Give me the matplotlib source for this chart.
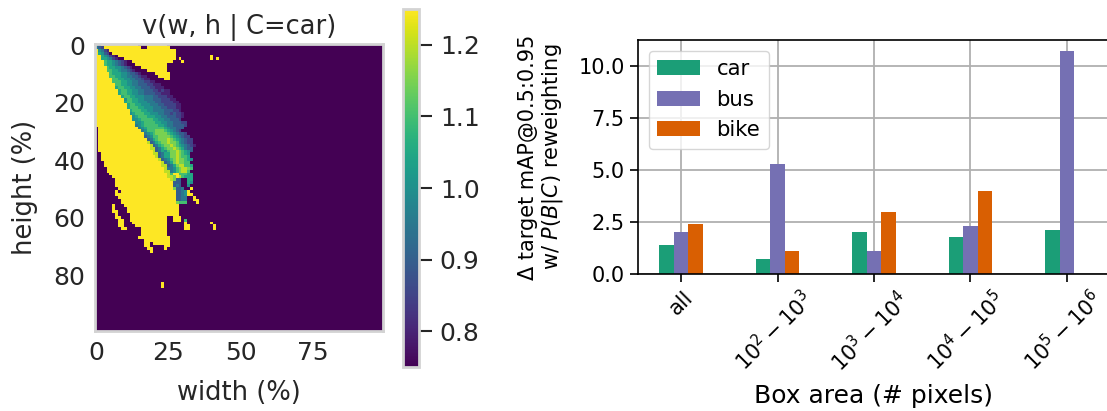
import matplotlib
matplotlib.use("Agg")
import matplotlib.pyplot as plt
import matplotlib.transforms as mtrans
import numpy as np

# left panel: v(w, h | C=car), one string per height row, one char per width cell
# '.' = lowest, digits = steps of 0.05 above it, Y = highest
HEAT_ROWS = [
    "32" + "Y"*13 + "..." + "Y"*7,
    "432" + "Y"*13 + ".." + "Y"*8,
    "Y5421" + "Y"*23,
    "Y65320" + "Y"*22,
    "YY654210" + "Y"*20 + "."*12 + "Y",
    "YY6654210." + "Y"*18 + "." + "Y" + "."*10 + "Y" + ".Y",
    "YYY7665432100" + "Y"*14 + "..." + "Y",
    "YYY76654321000" + "Y"*11,
    "YYYY766554321000" + "Y"*9,
    "YYYY7766544321000." + "Y"*7,
    "YYYYY766655433210000." + "Y"*5,
    "YYYYY776655443321100" + "00" + "Y"*4,
    "Y"*6 + "7766" + "55443" + "3211" + "00000" + "YY",
    "Y"*6 + "77766" + "55443" + "32211" + "000",
    "Y"*7 + "77665" + "54433" + "32211" + "10",
    "Y"*7 + "677665" + "54433" + "32211" + "10",
    "Y"*8 + "67766" + "55443" + "33221" + "211",
    "Y"*8 + "677665" + "54433" + "33221" + "110",
    "Y"*9 + "67766" + "55544" + "43322" + "2110",
    "Y"*10 + "5776" + "65544" + "43332" + "22110",
    "Y"*10 + "67766" + "55544" + "43322" + "2211",
    "Y"*11 + "6776" + "65554" + "44332" + "22211",
    "Y"*11 + "67776" + "65554" + "44332" + "2211",
    "Y"*12 + "6777" + "66554" + "44433" + "3221",
    "Y"*12 + "56777" + "66555" + "44332" + "3221",
    "Y"*13 + "5677" + "76665" + "54433" + "3221",
    "Y"*13 + "55677" + "77665" + "54433" + "32",
    "Y"*14 + "5567" + "77766" + "55443" + "3322",
    "Y"*14 + "45677" + "77766" + "54433" + "332",
    "." + "Y"*14 + "4567" + "77777" + "65443" + "33",
    "." + "Y"*15 + "45" + "77788" + "87654" + "32",
    "." + "Y"*16 + "45" + "67888" + "87654" + "332",
    "." + "Y"*16 + "345" + "77888" + "8765" + "4322",
    "." + "Y"*17 + "346" + "78889" + "876" + "54322",
    "." + "Y"*17 + "9346" + "7889" + "8875" + "4322",
    "." + "Y"*18 + "9346" + "7889" + "876" + "54321",
    "." + "Y"*18 + "99346" + "7889" + "87" + "6433",
    "." + "Y"*19 + "9346" + "57889" + "876" + "53",
    ".." + "Y"*18 + "99346" + "6889" + "8765",
    ".." + "Y"*19 + "9346" + "6889" + "8776",
    ".." + "Y"*20 + "9345" + "789" + "88765",
    "..." + "Y"*20 + "9346" + "89" + "8877",
    "..." + "Y"*20 + "99346" + "899" + "776",
    "...." + "Y"*20 + "9445" + "7899" + "87",
    "...." + "Y"*20 + "9945" + "7899" + "7",
    "....." + "Y"*20 + "97" + "YY" + "777" + "66",
    "......" + "Y"*19 + "998" + "Y9" + "76" + "66",
    "......." + "Y"*19 + "98" + "33" + ".." + "66",
    "......." + "Y"*20 + "333" + ".." + "65",
    "......." + "Y"*20 + "343" + ".." + "5",
    "........" + "Y"*19 + "8" + "33" + "4" + ".." + "Y",
    "......." + "Y." + "Y"*19 + "33" + "4" + "5" + "Y",
    "......." + "YY" + "Y"*19 + "334" + "5" + "YY",
    "........" + "Y"*20 + "3344" + "..Y",
    "........." + "Y"*19 + "3344" + "..YY",
    "........." + "Y"*19 + "8777" + "...Y",
    "......Y..." + "Y"*19,
    "......Y...." + "Y"*18,
    "......YY..." + "Y"*18,
    ".......Y...." + "Y"*17,
    ".......YY..." + "Y"*13 + ".." + "YYY",
    "........YY.." + "Y"*13 + ".." + "YYY" + ".7",
    "........YY..." + "Y"*12 + "."*6 + "Y" + "."*8 + "Y",
    "........YY...." + "Y"*11 + "."*6 + "YY" + "."*8 + "Y",
    ".........YY....." + "Y"*9 + "."*6 + "YY" + "."*8 + "Y",
    "."*16 + "Y"*9,
    "."*16 + "Y"*9,
    "."*15 + "Y" + "Y"*10,
    "."*17 + "Y"*9,
    "."*17 + "YY." + "Y"*6,
    "."*17 + "YY" + "."*5 + "YY",
    "."*18 + "YY" + "...." + "Y",
    "."*19 + "Y",
] + [""]*10 + ["."*23 + "Y", "."*23 + "Y"] + [""]*15

# right panel
box_areas = ["all", r"$10^2-10^3$", r"$10^3-10^4$", r"$10^4-10^5$", r"$10^5-10^6$"]
car = [1.4, 0.7, 2.0, 1.8, 2.1]
bus = [2.0, 5.3, 1.1, 2.3, 10.7]
bike = [2.4, 1.1, 3.0, 4.0, 0.0]

W, H = 1107, 411


def px_axes(fig, x0, y0, x1, y1):
    return fig.add_axes([x0 / W, 1 - y1 / H, (x1 - x0) / W, (y1 - y0) / H])


def decode(rows, ncols=100):
    grid = np.full((len(rows), ncols), 0.75)
    for i, row in enumerate(rows):
        for j, ch in enumerate(row):
            if ch == "Y":
                grid[i, j] = 1.25
            elif ch != ".":
                grid[i, j] = 0.75 + 0.05 * int(ch)
    return grid


fig = plt.figure(figsize=(W / 100, H / 100), dpi=100)

ax = px_axes(fig, 95, 44, 383, 331)
im = ax.imshow(decode(HEAT_ROWS), cmap="viridis", vmin=0.75, vmax=1.25,
               aspect="auto", interpolation="nearest")
ax.set_xticks([0, 25, 50, 75])
ax.set_yticks([0, 20, 40, 60, 80])
ax.tick_params(length=0, labelsize=18, labelcolor=".15", pad=7)
ax.set_xlabel("width (%)", fontsize=18.5, color=".15", labelpad=11)
ax.set_ylabel("height (%)", fontsize=18.5, color=".15", labelpad=11)
ax.set_title("v(w, h | C=car)", fontsize=18.5, color=".15", pad=7)
for s in ax.spines.values():
    s.set_color("#d3d3d3")
    s.set_linewidth(2)

cax = px_axes(fig, 403, 9, 419, 367)
cb = fig.colorbar(im, cax=cax)
cb.set_ticks([0.8, 0.9, 1.0, 1.1, 1.2])
cb.ax.tick_params(length=9, width=1.5, labelsize=18, labelcolor=".15", color=".15", pad=6)
cb.outline.set_edgecolor("#d3d3d3")
cb.outline.set_linewidth(2)

ax2 = px_axes(fig, 638, 40, 1110, 274)
x = np.arange(len(box_areas))
w = 0.15
ax2.bar(x - w, car, w, color="#1b9e77", label="car", zorder=2)
ax2.bar(x, bus, w, color="#7570b3", label="bus", zorder=2)
ax2.bar(x + w, bike, w, color="#d95f02", label="bike", zorder=2)
ax2.grid(True, color="#b0b0b0", lw=1.3, zorder=0)
ax2.set_axisbelow(True)
ax2.set_xticks(x)
ax2.set_yticks([0, 2.5, 5, 7.5, 10])
ax2.set_yticklabels(["0.0", "2.5", "5.0", "7.5", "10.0"])
ax2.tick_params(labelsize=15, length=6, width=1.2, color="black")
ax2.set_xticklabels(box_areas, rotation=45, ha="center")
# tick_params resets label transforms, so nudge after it ('all' stays centred)
shift = mtrans.ScaledTranslation(-4 / 100, 0, fig.dpi_scale_trans)
for lab in ax2.get_xticklabels()[1:]:
    lab.set_transform(lab.get_transform() + shift)
ax2.set_xlabel("Box area (# pixels)", fontsize=18, labelpad=6)
ax2.set_ylabel("Δ target mAP@0.5:0.95\nw/ $P(B|C)$ reweighting", fontsize=15,
               labelpad=10, linespacing=1.1)
ax2.legend(loc="upper left", fontsize=15.3, handlelength=2, framealpha=0.8)
ax2.spines["right"].set_visible(False)
for s in ["top", "bottom", "left"]:
    ax2.spines[s].set_linewidth(1.2)

fig.savefig("out.png", dpi=100)
